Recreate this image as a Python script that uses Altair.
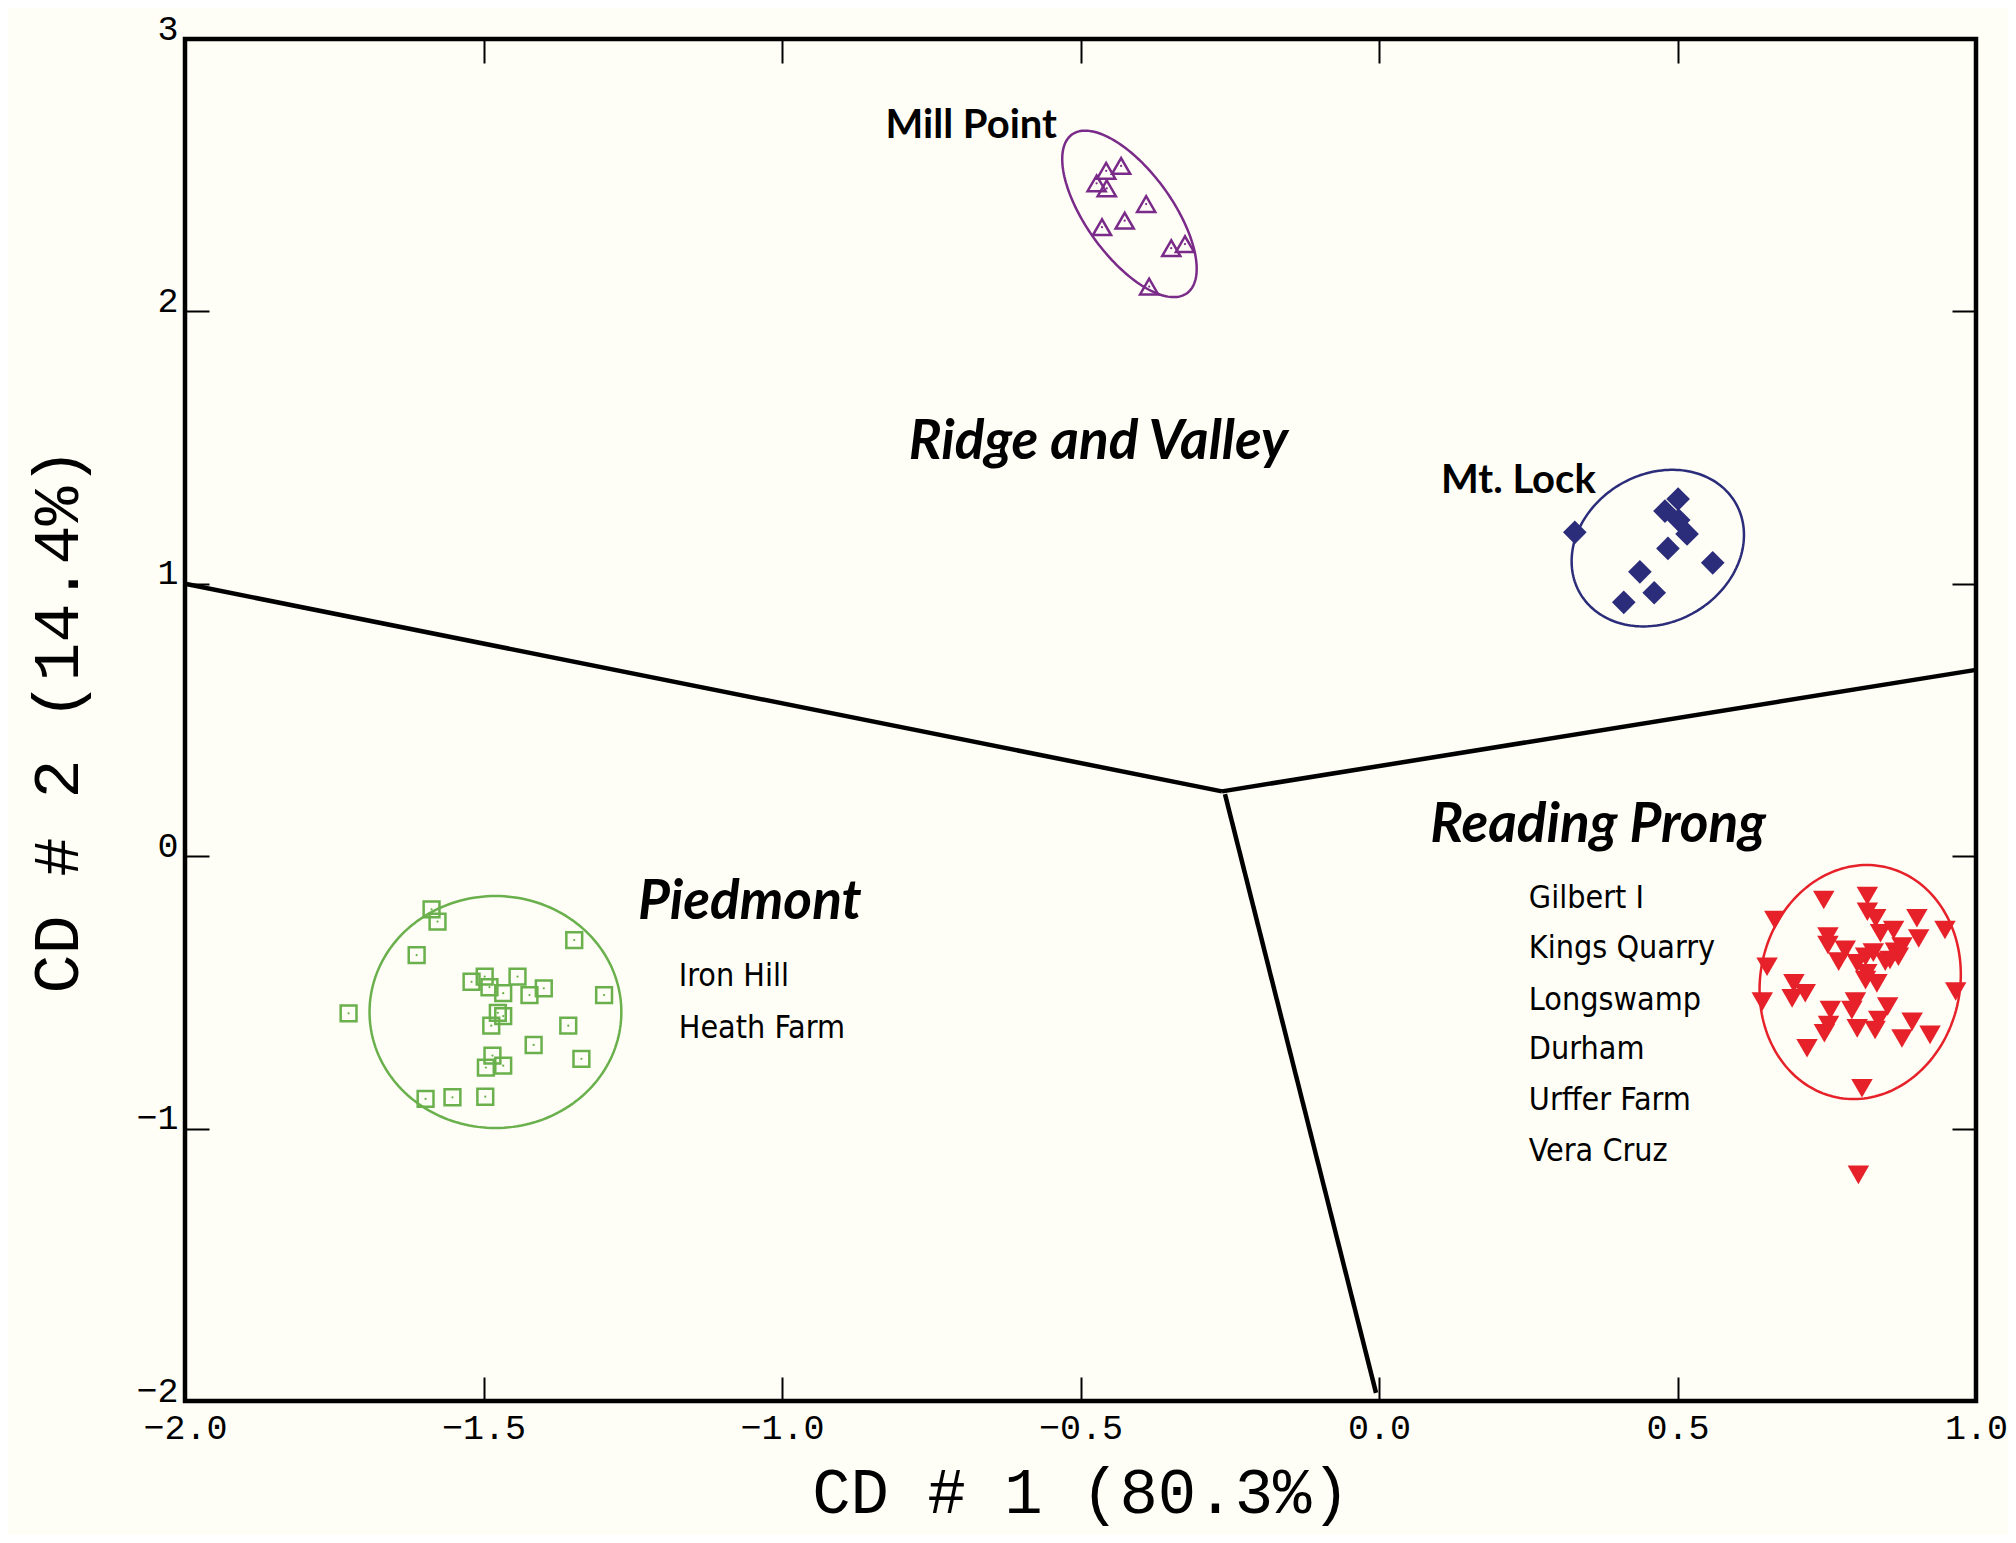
import altair as alt
import numpy as np
import pandas as pd

# ---------------- data ----------------
mill_x = [-0.457, -0.432, -0.473, -0.456, -0.390, -0.426, -0.464, -0.348, -0.325, -0.385]
mill_y = [2.516, 2.534, 2.470, 2.452, 2.394, 2.333, 2.309, 2.232, 2.247, 2.091]

lock_x = [0.501, 0.479, 0.502, 0.516, 0.328, 0.484, 0.559, 0.437, 0.461, 0.410]
lock_y = [1.311, 1.267, 1.234, 1.183, 1.189, 1.130, 1.077, 1.044, 0.967, 0.932]

pied_x = [-1.587, -1.577, -1.348, -1.612, -1.520, -1.498, -1.490, -1.467, -1.443, -1.423,
          -1.399, -1.298, -1.726, -1.476, -1.467, -1.487, -1.358, -1.416, -1.336, -1.485,
          -1.467, -1.496, -1.597, -1.552, -1.497]
pied_y = [-0.195, -0.240, -0.308, -0.363, -0.461, -0.442, -0.481, -0.503, -0.442, -0.510,
          -0.485, -0.510, -0.577, -0.575, -0.587, -0.622, -0.622, -0.693, -0.744, -0.732,
          -0.769, -0.776, -0.891, -0.885, -0.883]

read_x = [0.745, 0.818, 0.818, 0.832, 0.663, 0.901, 0.948, 0.840, 0.862, 0.752,
          0.752, 0.904, 0.781, 0.876, 0.865, 0.828, 0.815, 0.770, 0.856, 0.801,
          0.650, 0.817, 0.815, 0.834, 0.695, 0.714, 0.692, 0.966, 0.642, 0.798,
          0.792, 0.852, 0.756, 0.837, 0.893, 0.753, 0.746, 0.801, 0.831, 0.876,
          0.923, 0.717, 0.809, 0.803, 0.870, 0.848]
read_y = [-0.161, -0.146, -0.204, -0.228, -0.234, -0.228, -0.271, -0.283, -0.271, -0.295,
          -0.326, -0.302, -0.344, -0.332, -0.351, -0.354, -0.369, -0.387, -0.381, -0.393,
          -0.406, -0.430, -0.455, -0.467, -0.467, -0.503, -0.522, -0.497, -0.534, -0.534,
          -0.565, -0.552, -0.565, -0.601, -0.608, -0.620, -0.650, -0.632, -0.638, -0.669,
          -0.656, -0.705, -0.852, -1.170, -0.369, -0.387]

groups = ["Mill Point", "Mt. Lock", "Piedmont", "Reading Prong"]
colors = ["#7a2a88", "#2b2d7a", "#6ab04c", "#e62129"]

# confidence ellipses: centre and two conjugate semi-axis vectors (data units)
ell_cx = [-0.418, 0.467, -1.480, 0.806]
ell_cy = [2.358, 1.131, -0.572, -0.462]
ell_ux = [0.0964, 0.1304, 0.2109, 0.1682]
ell_uy = [-0.2911, 0.1652, 0.0, 0.0]
ell_vx = [0.0582, 0.0619, 0.0, 0.011]
ell_vy = [0.0929, -0.2353, 0.4258, 0.4295]

# discriminant boundary segments
seg_id = ["a", "a", "b", "b", "c", "c"]
seg_x = [-2.0, -0.263, -0.263, 1.0, -0.258, -0.005]
seg_y = [1.0, 0.238, 0.238, 0.684, 0.228, -1.97]

x_ticks = [-2.0, -1.5, -1.0, -0.5, 0.0, 0.5, 1.0]
y_ticks = [-2, -1, 0, 1, 2, 3]

region_text = ["Ridge and Valley", "Reading Prong", "Piedmont"]
region_x = [-0.470, 0.367, -1.054]
region_y = [1.458, 0.052, -0.231]

group_text = ["Mill Point", "Mt. Lock"]
group_x = [-0.683, 0.2335]
group_y = [2.638, 1.335]

site_text = ["Iron Hill", "Heath Farm", "Gilbert  I", "Kings  Quarry", "Longswamp",
             "Durham", "Urffer  Farm", "Vera  Cruz"]
site_x = [-1.173, -1.173, 0.251, 0.251, 0.251, 0.251, 0.251, 0.251]
site_y = [-0.477, -0.666, -0.189, -0.374, -0.565, -0.744, -0.932, -1.119]

# ---------------- frames ----------------
mill = pd.DataFrame({"x": mill_x, "y": mill_y})
lock = pd.DataFrame({"x": lock_x, "y": lock_y})
pied = pd.DataFrame({"x": pied_x, "y": pied_y})
read = pd.DataFrame({"x": read_x, "y": read_y})

t = np.linspace(0, 2 * np.pi, 181)
rows = []
for g, cx, cy, ux, uy, vx, vy in zip(groups, ell_cx, ell_cy, ell_ux, ell_uy, ell_vx, ell_vy):
    for i, tt in enumerate(t):
        rows.append({"g": g, "i": i,
                     "x": cx + np.cos(tt) * ux + np.sin(tt) * vx,
                     "y": cy + np.cos(tt) * uy + np.sin(tt) * vy})
ell = pd.DataFrame(rows)

segs = pd.DataFrame({"s": seg_id, "x": seg_x, "y": seg_y, "o": list(range(len(seg_x)))})
regions = pd.DataFrame({"t": region_text, "x": region_x, "y": region_y})
grp = pd.DataFrame({"t": group_text, "x": group_x, "y": group_y})
sites = pd.DataFrame({"t": site_text, "x": site_x, "y": site_y})

# ---------------- scales / axes ----------------
XS = alt.Scale(domain=[-2, 1], nice=False, zero=False)
YS = alt.Scale(domain=[-2, 3], nice=False, zero=False)

axis_font = "Liberation Mono"
common = dict(domain=False, ticks=True, tickSize=24, tickWidth=2, tickColor="black",
              grid=False, offset=-24, labelOverlap=False)

x_axis = alt.Axis(orient="bottom", values=x_ticks, format=".1f", labelFont=axis_font,
                  labelFontSize=35, labelColor="black", labelPadding=9, labelFlush=False,
                  title="CD # 1 (80.3%)", titleFont=axis_font, titleFontSize=64,
                  titleFontWeight="normal", titleColor="black", titlePadding=16, **common)
y_axis = alt.Axis(orient="left", values=y_ticks, format="d", labelFont=axis_font,
                  labelFontSize=35, labelColor="black", labelPadding=7, labelFlush=False,
                  labelBaseline="alphabetic",
                  title="CD # 2 (14.4%)", titleFont=axis_font, titleFontSize=65,
                  titleFontWeight="normal", titleColor="black", titlePadding=44, **common)
x_top = alt.Axis(orient="top", values=x_ticks, labels=False, title=None, **common)
y_right = alt.Axis(orient="right", values=y_ticks, labels=False, title=None, **common)


def xy(ax=None, ay=None):
    return dict(x=alt.X("x:Q", scale=XS, axis=ax), y=alt.Y("y:Q", scale=YS, axis=ay))


col = alt.Color("g:N", scale=alt.Scale(domain=groups, range=colors), legend=None)

bounds = alt.Chart(segs).mark_line(color="black", strokeWidth=4.5).encode(
    detail="s:N", order="o:Q", **xy(x_top, y_right))

ellipses = alt.Chart(ell).mark_line(strokeWidth=2.5).encode(
    color=col, detail="g:N", order="i:Q", **xy())

p_mill = alt.Chart(mill).mark_point(shape="triangle-up", filled=False, size=330,
                                     strokeWidth=2.5, color=colors[0], opacity=1).encode(**xy(x_axis, y_axis))
p_lock = alt.Chart(lock).mark_point(shape="diamond", filled=True, size=560,
                                     color=colors[1], opacity=1).encode(**xy())
p_pied = alt.Chart(pied).mark_point(shape="square", filled=False, size=250,
                                     strokeWidth=2.5, color=colors[2], opacity=1).encode(**xy())
p_read = alt.Chart(read).mark_point(shape="triangle-down", filled=True, size=460,
                                     color=colors[3], opacity=1).encode(**xy())
d_mill = alt.Chart(mill).mark_circle(size=5, color=colors[0], opacity=1).encode(**xy())
d_pied = alt.Chart(pied).mark_circle(size=5, color=colors[2], opacity=1).encode(**xy())

t_region = alt.Chart(regions).mark_text(font="Lato", fontWeight="bold", fontStyle="italic",
                                        fontSize=55, align="center", baseline="alphabetic",
                                        color="black").encode(text="t:N", **xy())
t_group = alt.Chart(grp).mark_text(font="Lato", fontWeight="bold", fontSize=40,
                                   align="center", baseline="alphabetic",
                                   color="black").encode(text="t:N", **xy())
t_sites = alt.Chart(sites).mark_text(font="Liberation Sans Narrow, DejaVu Sans Condensed, Roboto Condensed, Lato",
                                     fontSize=32, align="left", baseline="alphabetic",
                                     color="black").encode(text="t:N", **xy())

chart = alt.layer(
    p_mill, bounds, ellipses, p_lock, p_pied, p_read, d_mill, d_pied,
    t_region, t_group, t_sites
).resolve_axis(x="independent", y="independent").properties(
    width=1791, height=1362,
    padding={"left": 177, "top": 31, "right": 32, "bottom": 134},
    autosize=alt.AutoSizeParams(type="none"),
    background="#fefef6",
).configure_view(stroke="black", strokeWidth=4.5, fill="#fefef6")

chart.save("out.html", embed_options={"renderer": "svg", "actions": False})
